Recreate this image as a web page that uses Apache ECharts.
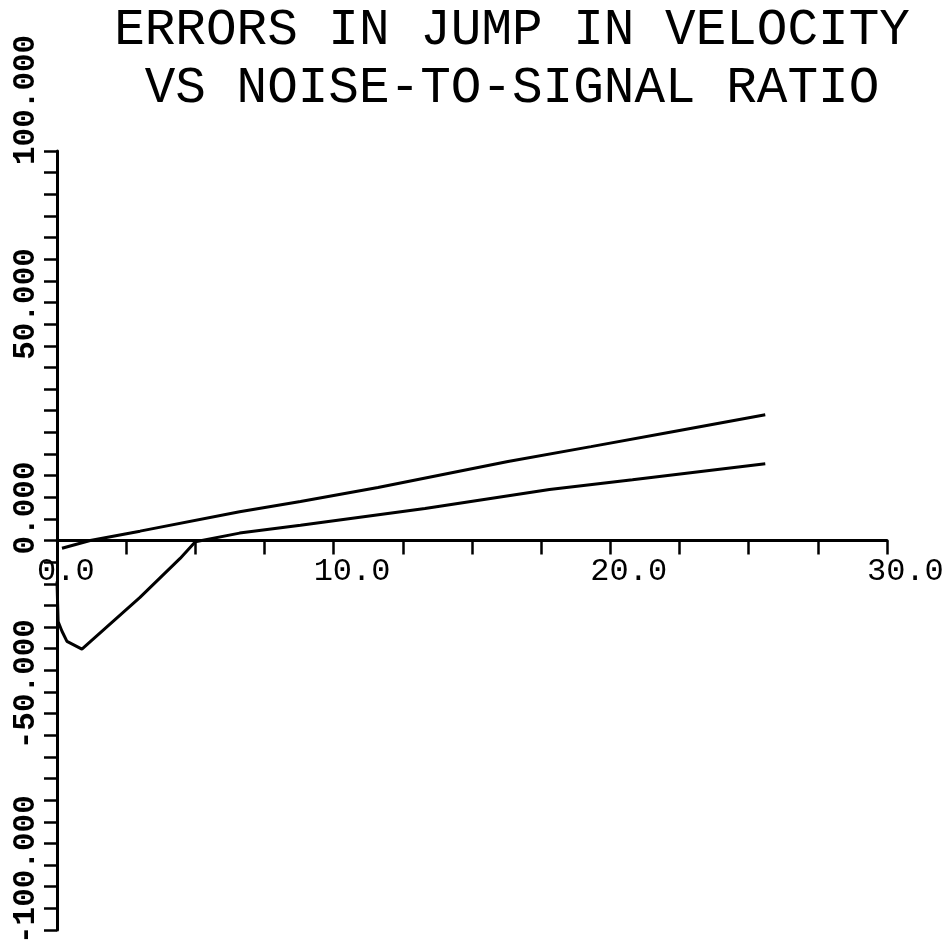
<!DOCTYPE html>
<html><head><meta charset="utf-8">
<script src="https://cdn.jsdelivr.net/npm/echarts@6/dist/echarts.min.js"></script>
<style>html,body{margin:0;padding:0;background:#fff}#c{width:951px;height:952px}</style>
</head><body><div id="c"></div>
<script>
// ---- data ----
const titleLines = ['ERRORS IN JUMP IN VELOCITY', 'VS NOISE-TO-SIGNAL RATIO'];
const xTickValues = [0, 10, 20, 30];
const xTickLabels = ['0.0', '10.0', '20.0', '30.0'];
const yTickValues = [100, 50, 0, -50, -100];
const yTickLabels = ['100.000', '50.000', '0.000', '-50.000', '-100.000'];

const upperX = [0.18, 1.2, 3.0, 6.6, 8.8, 11.6, 16.3, 19.3, 22.3, 25.6];
const upperY = [-2.0, 0.0, 2.4, 7.4, 10.0, 13.6, 20.3, 24.1, 28.0, 32.3];

const lowerX = [0.0, 0.04, 0.18, 0.36, 0.9, 3.0, 4.45, 5.0, 6.6, 8.8, 13.3, 17.8, 20.8, 25.6];
const lowerY = [-10.5, -20.8, -23.3, -25.9, -27.9, -14.6, -4.6, -0.3, 1.9, 3.9, 8.2, 13.1, 15.6, 19.7];

// ---- chart ----
const zip = (xs, ys) => xs.map((x, i) => [x, ys[i]]);
const chart = echarts.init(document.getElementById('c'), null, {renderer: 'canvas'});
const axisCol = '#000';
const tickStyle = {color: axisCol, width: 2.5};
chart.setOption({
  animation: false,
  backgroundColor: '#fff',
  grid: {left: 57, right: 64, top: 151, bottom: 22, containLabel: false, outerBoundsMode: 'none'},
  xAxis: {
    type: 'value', min: 0, max: 30, interval: 10,
    axisLine: {show: true, onZero: true, lineStyle: {color: axisCol, width: 3}},
    axisTick: {show: true, inside: false, length: 14, lineStyle: tickStyle},
    minorTick: {show: true, splitNumber: 4, length: 14, lineStyle: tickStyle},
    axisLabel: {show: false},
    splitLine: {show: false}, minorSplitLine: {show: false}
  },
  yAxis: {
    type: 'value', min: -100, max: 100, interval: 100,
    axisLine: {show: true, onZero: true, lineStyle: {color: axisCol, width: 3}},
    axisTick: {show: true, inside: false, length: 13, lineStyle: tickStyle},
    minorTick: {show: true, splitNumber: 18, length: 13, lineStyle: tickStyle},
    axisLabel: {show: false},
    splitLine: {show: false}, minorSplitLine: {show: false}
  },
  series: [
    {type: 'line', data: zip(upperX, upperY), showSymbol: false, symbol: 'none',
     lineStyle: {color: '#000', width: 3}, clip: false},
    {type: 'line', data: zip(lowerX, lowerY), showSymbol: false, symbol: 'none',
     lineStyle: {color: '#000', width: 3}, clip: false}
  ]
});

const graphics = [];
const titleY = [30, 88];
titleLines.forEach((t, i) => {
  graphics.push({type: 'text', x: 512, y: titleY[i], silent: true,
    style: {text: t, font: '51px "Liberation Mono"', fill: '#000',
      align: 'center', verticalAlign: 'middle', textAlign: 'center', textVerticalAlign: 'middle'}});
});
xTickValues.forEach((v, i) => {
  const p = chart.convertToPixel({gridIndex: 0}, [v, 0]);
  graphics.push({type: 'text', x: p[0] - 20, y: 572, silent: true,
    style: {text: xTickLabels[i], font: '32px "Liberation Mono"', fill: '#000',
      align: 'left', verticalAlign: 'middle', textAlign: 'left', textVerticalAlign: 'middle'}});
});
yTickValues.forEach((v, i) => {
  const p = chart.convertToPixel({gridIndex: 0}, [0, v]);
  graphics.push({type: 'text', x: 26, y: p[1] + 14, rotation: Math.PI / 2, silent: true,
    style: {text: yTickLabels[i], font: 'bold 31px "Liberation Mono"', fill: '#000',
      align: 'left', verticalAlign: 'middle', textAlign: 'left', textVerticalAlign: 'middle'}});
});
chart.setOption({graphic: graphics});
</script>
</body></html>
